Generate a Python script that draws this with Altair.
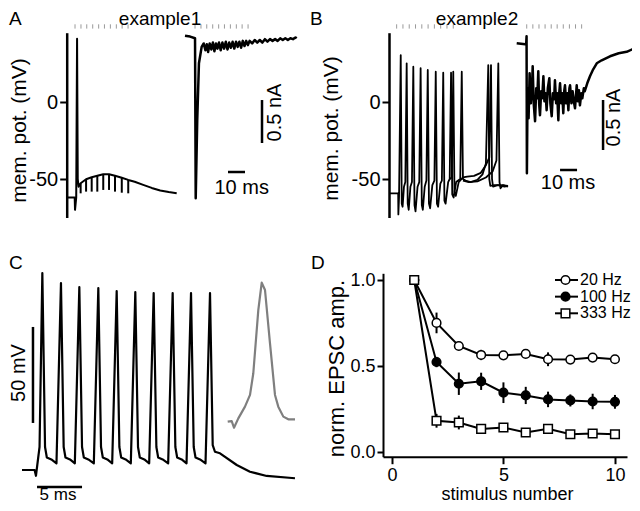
import altair as alt
import pandas as pd

# ---------------- Panel A : example1 ----------------
# membrane potential trace (ms, mV)
a_v_t = [0, 4.7, 4.9, 5.6, 6.1, 6.5, 7.0, 8.2, 11.4, 14.7, 18.0, 21.5, 24.9, 28.4, 32.4, 36.2,
         40.0, 45.0, 50.0, 55.0, 60.0, 64.7]
a_v_v = [-62, -62, -70, -62, 41, -50, -55, -52.8, -50.2, -48.9, -47.9, -46.9, -46.9, -47.9, -49.2, -50.6,
         -51.8, -53.8, -55.8, -57.5, -58.5, -59.3]
# stimulus artifacts on the voltage trace
a_art_t = [8.2, 11.4, 14.7, 18.0, 21.5, 24.9, 28.4, 32.4, 36.2]
a_art_top = [-52.8, -50.2, -48.9, -47.9, -46.9, -46.9, -47.9, -49.2, -50.6]
a_art_bot = [-59.3, -58.2, -58.2, -58.2, -57.1, -57.1, -58.2, -58.9, -59.3]
# stimulus times (grey dotted markers)
a_stim_v = [4.9, 8.4, 11.8, 15.3, 18.8, 22.2, 25.7, 29.2, 32.6, 36.1]
a_stim_i = [5.9, 9.4, 12.8, 16.3, 19.8, 23.2, 26.7, 30.2, 33.6, 37.1]
# EPSC trace (ms, nA)
a_i_t = [0, 3, 5.9, 6.3, 7.2, 8.2, 9.8, 11, 12, 12.8, 13.6, 14.5, 15.5, 16.4, 17.3, 18.2, 19.1,
         20, 21, 22, 23, 24, 25, 26, 27, 28, 29, 30, 31, 32, 33, 34, 35, 36, 37, 38,
         39.5, 41, 42.5, 44, 45.5, 47, 48.5, 50, 51.5, 53, 54.5, 56, 57.5, 59, 60.5, 62, 63.5, 65, 65.7]
a_i_v = [0.0, -0.01, -0.03, -1.89, -0.98, -0.32, -0.13, -0.09, -0.17, -0.1, -0.19, -0.09, -0.16, -0.08, -0.18, -0.09, -0.15,
         -0.08, -0.17, -0.08, -0.15, -0.07, -0.16, -0.08, -0.14, -0.07, -0.15, -0.07, -0.13, -0.07, -0.14, -0.06, -0.12, -0.06, -0.11, -0.06,
         -0.09, -0.05, -0.08, -0.05, -0.08, -0.04, -0.07, -0.04, -0.06, -0.04, -0.06, -0.03, -0.05, -0.03, -0.05, -0.03, -0.04, -0.02, -0.03]
# scale bars (10 ms, 0.5 nA)
a_bar_ms = [25.3, 35.3]
a_bar_ms_at = -1.585
a_bar_na = [-0.748, -1.248]
a_bar_na_at = 45.3

# ---------------- Panel B : example2 ----------------
b_s1_t = [0, 5.4, 5.5, 5.9, 6.9, 7.5, 8.0, 8.8, 9.6, 10.4, 11.0, 11.6, 12.6, 13.5, 14.3, 15.0, 15.6, 16.8, 17.8,
          18.6, 19.3, 19.9, 21.0, 22.0, 22.8, 23.5, 24.2, 25.5, 26.7, 27.5, 28.2, 28.9, 30.2, 31.1, 31.9, 32.6, 33.3,
          34.8, 35.7, 36.5, 37.2, 38.0, 39.5, 41.9, 42.8, 43.5, 45, 48, 52, 55, 57, 58.4, 59.0, 59.6, 62, 66, 70]
b_s1_v = [-59.3, -59.3, -73, -62, 30.5, -66, -68, -55, -52, 25.1, -66, -70, -55, -52, 22.9, -67, -71, -55, -52,
          21.9, -67, -70, -55, -51, 20.8, -66, -69, -54, -51, 19.7, -66, -68, -53, -51, 19.0, -64, -66,
          -52, -50, 19.0, -60, -62, -52, -50, 19.7, -50, -51, -52, -50.5, -47, -40, 24, -50, -54.5, -54, -54, -54.5]
b_s2_t = [35.7, 36.9, 37.8, 38.5, 39.3, 41.0, 43.5, 46, 50, 54, 57, 59, 60.0, 60.6, 61.2, 64, 68, 70]
b_s2_v = [-50, -49, 19.7, -58, -61, -52, -49, -48.5, -48, -46, -41, -36, 24, -50, -55, -54, -55, -54.5]
b_s3_t = [43.5, 47, 52, 57, 61, 63.2, 64.3, 65.0, 65.6, 67, 70]
b_s3_v = [-51, -52, -51.5, -49, -45, -38, 25, -52, -56, -54, -55]
b_stim_v = [4.5, 8.2, 11.9, 15.6, 19.3, 23.0, 26.7, 30.4, 34.1, 37.8]
b_stim_i = [5.9, 9.5, 13.1, 16.7, 20.3, 23.8, 27.4, 31.0, 34.6, 38.2]
b_i_t = [0, 5.0, 5.6, 5.8, 6.0, 6.4, 7.0, 7.6, 8.3, 9.0, 9.4, 10.0, 10.8, 11.5, 12.1,
         12.7, 13.2, 13.7, 14.4, 15.0, 15.7, 16.3, 17.0, 17.6, 18.3, 19.2, 19.8, 20.6, 21.3, 22.0, 22.5, 23.2, 23.8, 24.5, 25.0,
         25.5, 26.2, 26.8, 27.4, 28.0, 28.4, 29.1, 29.8, 30.4, 31.0, 31.4, 32.2, 32.9, 33.6, 34.3, 35.3, 36.0, 36.6, 37.2, 38.0,
         38.6, 39.5, 40.0, 41.5, 43.1, 45, 47.1, 50, 54.9, 60, 64.7, 68, 70.6]
b_i_v = [0.0, -0.01, 0.0, 0.07, -1.3, -0.45, -0.75, -0.3, -0.6, -0.45, -0.23, -0.6, -0.78, -0.45, -0.55,
         -0.28, -0.6, -0.72, -0.48, -0.55, -0.33, -0.58, -0.5, -0.67, -0.45, -0.35, -0.6, -0.73, -0.5, -0.56, -0.37, -0.6, -0.5, -0.77, -0.5,
         -0.4, -0.6, -0.5, -0.7, -0.47, -0.42, -0.6, -0.5, -0.67, -0.45, -0.42, -0.6, -0.48, -0.58, -0.65, -0.42, -0.58, -0.47, -0.62, -0.5,
         -0.55, -0.45, -0.48, -0.4, -0.33, -0.26, -0.2, -0.17, -0.13, -0.1, -0.085, -0.06, -0.05]
b_bar_ms = [25.5, 35.5]
b_bar_ms_at = -1.267
b_bar_na = [-0.567, -1.067]
b_bar_na_at = 50.8

# ---------------- Panel C : spike train ----------------
c_t = [0, 1.4, 1.55, 1.95, 2.26, 2.56, 2.76, 3.26, 3.83,
       4.33, 4.63, 4.83, 5.33, 5.87,
       6.37, 6.67, 6.87, 7.37, 7.98,
       8.48, 8.78, 8.98, 9.48, 10.02,
       10.52, 10.82, 11.02, 11.52, 12.09,
       12.59, 12.89, 13.09, 13.59, 14.13,
       14.63, 14.93, 15.13, 15.63, 16.24,
       16.74, 17.04, 17.24, 17.74, 18.28,
       18.78, 19.08, 19.28, 19.78, 20.39,
       20.89, 21.19, 21.44, 22.0, 23.86, 25.33, 27.19, 30.33]
c_v = [-70, -70, -73, -58, 32.6, -58, -63.5, -64.5, -66.5,
       27.4, -58, -63.5, -64.5, -66.5,
       25.3, -58, -63.5, -64.5, -66.5,
       24.8, -58, -63.5, -64.5, -66.5,
       23.2, -58, -63.5, -64.5, -66.5,
       22.7, -58, -63.5, -64.5, -66.5,
       22.2, -58, -63.5, -64.5, -66.5,
       22.2, -58, -63.5, -64.5, -66.5,
       22.2, -58, -63.5, -64.5, -66.5,
       22.2, -57, -60.5, -61.3, -67.4, -70.9, -73.1, -74.3]
# grey averaged spike (inset)
g_u = [0, 0.089, 0.14, 0.236, 0.384, 0.496, 0.569, 0.68, 0.756, 0.829, 0.94, 1.051, 1.124, 1.236, 1.347, 1.496]
g_v = [-44.8, -44.5, -48.0, -43.1, -37.0, -30.9, -19.6, 13.3, 27.6, 23.75, -4.0, -30.9, -37.0, -42.2, -43.6, -43.6]
c_bar_ms = [1.67, 6.67]
c_bar_ms_at = -78.9
c_bar_mv = [4.5, -45.5]
c_bar_mv_at = 1.22

# ---------------- Panel D : depression ----------------
stim_n = [1, 2, 3, 4, 5, 6, 7, 8, 9, 10]
series = ["20 Hz", "100 Hz", "333 Hz"]
amp_20 = [1.0, 0.751, 0.617, 0.565, 0.563, 0.571, 0.54, 0.538, 0.55, 0.54]
err_20 = [0, 0.06, 0.02, 0.03, 0.015, 0.02, 0.04, 0.015, 0.015, 0.015]
amp_100 = [1.0, 0.524, 0.398, 0.412, 0.346, 0.33, 0.307, 0.301, 0.295, 0.293]
err_100 = [0, 0.03, 0.065, 0.05, 0.06, 0.05, 0.045, 0.035, 0.045, 0.04]
amp_333 = [1.0, 0.183, 0.173, 0.136, 0.144, 0.115, 0.136, 0.105, 0.109, 0.105]
err_333 = [0, 0.04, 0.04, 0.02, 0.02, 0.01, 0.025, 0.01, 0.01, 0.015]

# ======================================================
FONT = "Liberation Sans"
INK = "#000000"
W, H = 624, 495


def P(p):
    """page pixel -> chart pixel (page has an 8px margin)"""
    return p - 8


def S(d0, d1, p0, p1):
    return alt.Scale(domain=[d0, d1], range=[P(p0), P(p1)], nice=False, zero=False)


xAv = S(0, 70, 66.7, 66.7 + 1.7 * 70)
yV = S(-75, 45, 102 + 1.54 * 75, 102 - 1.54 * 45)
xAi = S(0, 70, 185, 185 + 1.7 * 70)
yAi = S(-2.0, 0.1, 35.7 + 86 * 2.0, 35.7 - 86 * 0.1)
xBv = S(0, 72, 389, 389 + 1.7 * 72)
xBi = S(0, 72, 516.7, 516.7 + 1.7 * 72)
yBi = S(-1.4, 0.1, 43.3 + 100 * 1.4, 43.3 - 100 * 0.1)
xC = S(0, 31, 22, 22 + 9 * 31)
yC = S(-80, 35, 335.6 + 1.92 * 80, 335.6 - 1.92 * 35)
xG = S(0, 1.5, 227.7, 227.7 + 45 * 1.5)
xD = S(-0.4, 10.54, 383, 627)
yD = S(-0.0255, 1.039, 456.7, 273.3)

NOAX = None


def df_trace(t, v, sweep="s"):
    return pd.DataFrame({"t": t, "v": v, "i": list(range(len(t))), "sweep": sweep})


def trace(df, xs, ys, color=INK, width=2.0, yaxis=NOAX):
    return alt.Chart(df).mark_line(color=color, strokeWidth=width, strokeJoin="round").encode(
        x=alt.X("t:Q", scale=xs, axis=None),
        y=alt.Y("v:Q", scale=ys, axis=yaxis),
        detail="sweep:N",
        order=alt.Order("i:Q"),
    )


def stim(times, xs):
    return alt.Chart(pd.DataFrame({"t": times})).mark_rule(color="#9a9a9a", strokeWidth=1).encode(
        x=alt.X("t:Q", scale=xs, axis=None), y=alt.value(P(24.3)), y2=alt.value(P(28.6)))


def hbar(x0, x1, yv, xs, ys, width=2.5):
    d = pd.DataFrame({"a": [x0], "b": [x1], "y": [yv]})
    return alt.Chart(d).mark_rule(color=INK, strokeWidth=width).encode(
        x=alt.X("a:Q", scale=xs, axis=None), x2="b:Q", y=alt.Y("y:Q", scale=ys, axis=None))


def vbar(xv, y0, y1, xs, ys, width=2.5):
    d = pd.DataFrame({"x": [xv], "a": [y0], "b": [y1]})
    return alt.Chart(d).mark_rule(color=INK, strokeWidth=width).encode(
        x=alt.X("x:Q", scale=xs, axis=None), y=alt.Y("a:Q", scale=ys, axis=None), y2="b:Q")


def txt(s, xp, yp, size, angle=0, align="center", baseline="middle"):
    return alt.Chart(pd.DataFrame({"s": [s]})).mark_text(
        font=FONT, fontSize=size, angle=angle, align=align, baseline=baseline, color=INK
    ).encode(text="s:N", x=alt.value(P(xp)), y=alt.value(P(yp)))


def vaxis(axis_x, title_x, title_y):
    return alt.Axis(orient="left", values=[-50, 0], labelExpr="'' + datum.value", offset=-P(axis_x),
                    title="mem. pot. (mV)", titleX=title_x - axis_x, titleY=P(title_y),
                    titleAngle=270, titleAlign="center", titleBaseline="middle",
                    titleFontSize=21, labelFontSize=20, tickSize=7, labelPadding=2,
                    domainWidth=2.5, tickWidth=2, grid=False)


layers = []

# ---- A ----
layers.append(trace(df_trace(a_v_t, a_v_v), xAv, yV, yaxis=vaxis(66.7, 19.5, 130)))
layers.append(alt.Chart(pd.DataFrame({"t": a_art_t, "a": a_art_top, "b": a_art_bot})).mark_rule(
    color=INK, strokeWidth=2).encode(x=alt.X("t:Q", scale=xAv, axis=None),
                                     y=alt.Y("a:Q", scale=yV, axis=None), y2="b:Q"))
layers.append(stim(a_stim_v, xAv))
layers.append(stim(a_stim_i, xAi))
layers.append(trace(df_trace(a_i_t, a_i_v), xAi, yAi, width=2.5))
layers.append(hbar(a_bar_ms[0], a_bar_ms[1], a_bar_ms_at, xAi, yAi))
layers.append(vbar(a_bar_na_at, a_bar_na[0], a_bar_na[1], xAi, yAi))
layers.append(txt("0.5 nA", 274.5, 112.5, 20, angle=270))
layers.append(txt("10 ms", 241.7, 187.5, 20))
layers.append(txt("example1", 160, 10, 19, baseline="top"))
layers.append(txt("A", 9, 10, 19, align="left", baseline="top"))

# ---- B ----
b_df = pd.concat([df_trace(b_s1_t, b_s1_v, "1"), df_trace(b_s2_t, b_s2_v, "2"), df_trace(b_s3_t, b_s3_v, "3")])
layers.append(trace(b_df, xBv, yV, width=1.8, yaxis=vaxis(389, 331, 128)))
layers.append(stim(b_stim_v, xBv))
layers.append(stim(b_stim_i, xBi))
layers.append(trace(df_trace(b_i_t, b_i_v), xBi, yBi, width=2.5))
layers.append(hbar(b_bar_ms[0], b_bar_ms[1], b_bar_ms_at, xBi, yBi))
layers.append(vbar(b_bar_na_at, b_bar_na[0], b_bar_na[1], xBi, yBi))
layers.append(txt("0.5 nA", 614, 117.5, 20, angle=270))
layers.append(txt("10 ms", 568, 182.5, 20))
layers.append(txt("example2", 477, 10, 19, baseline="top"))
layers.append(txt("B", 310, 10, 19, align="left", baseline="top"))

# ---- C ----
layers.append(trace(df_trace(c_t, c_v), xC, yC, width=2.2))
layers.append(trace(df_trace(g_u, g_v), xG, yC, color="#7f7f7f", width=2.2))
layers.append(hbar(c_bar_ms[0], c_bar_ms[1], c_bar_ms_at, xC, yC))
layers.append(vbar(c_bar_mv_at, c_bar_mv[0], c_bar_mv[1], xC, yC))
layers.append(txt("50 mV", 18.5, 373, 20, angle=270))
layers.append(txt("5 ms", 58, 499.5, 17, baseline="alphabetic"))
layers.append(txt("C", 9, 254, 19, align="left", baseline="top"))

# ---- D ----
d_rows = []
for s, amp, err in zip(series, [amp_20, amp_100, amp_333], [err_20, err_100, err_333]):
    for n, a, e in zip(stim_n, amp, err):
        d_rows.append({"n": n, "amp": a, "lo": a - e, "hi": a + e, "series": s})
d_df = pd.DataFrame(d_rows)

shape_sc = alt.Scale(domain=series, range=["circle", "circle", "square"])
fill_sc = alt.Scale(domain=series, range=["white", "black", "white"])
size_sc = alt.Scale(domain=series, range=[75, 75, 85])

xDax = alt.Axis(orient="bottom", values=[0, 5, 10], offset=P(456.7) - H, title="stimulus number",
                titleX=P(507), titleY=499 - 456.7, titleBaseline="alphabetic", titleAlign="center",
                titleFontSize=18, labelFontSize=18, tickSize=7, labelPadding=3,
                domainWidth=2, tickWidth=2, grid=False)
yDax = alt.Axis(orient="left", values=[0, 0.5, 1], format=".1f", offset=-P(383), title="norm. EPSC amp.",
                titleX=336 - 383, titleY=P(368), titleAngle=270, titleAlign="center", titleBaseline="middle",
                titleFontSize=22, labelFontSize=18, tickSize=6, labelPadding=2,
                domainWidth=2, tickWidth=2, grid=False)

layers.append(alt.Chart(d_df).mark_line(color=INK, strokeWidth=2).encode(
    x=alt.X("n:Q", scale=xD, axis=xDax), y=alt.Y("amp:Q", scale=yD, axis=yDax),
    detail="series:N", order="n:Q"))
layers.append(alt.Chart(d_df).mark_rule(color=INK, strokeWidth=2).encode(
    x=alt.X("n:Q", scale=xD, axis=None), y=alt.Y("lo:Q", scale=yD, axis=None), y2="hi:Q"))
layers.append(alt.Chart(d_df).mark_point(filled=True, stroke=INK, strokeWidth=1.5, opacity=1).encode(
    x=alt.X("n:Q", scale=xD, axis=None), y=alt.Y("amp:Q", scale=yD, axis=None),
    shape=alt.Shape("series:N", scale=shape_sc, legend=None),
    fill=alt.Fill("series:N", scale=fill_sc, legend=None),
    size=alt.Size("series:N", scale=size_sc, legend=None)))

# legend (drawn in place)
leg = pd.DataFrame({"series": series})
leg_y = alt.Scale(type="point", domain=series, range=[P(280), P(313.3)], padding=0)
layers.append(alt.Chart(leg).mark_rule(color=INK, strokeWidth=2).encode(
    y=alt.Y("series:N", scale=leg_y, axis=None), x=alt.value(P(555)), x2=alt.value(P(578))))
layers.append(alt.Chart(leg).mark_point(filled=True, stroke=INK, strokeWidth=1.5, opacity=1).encode(
    y=alt.Y("series:N", scale=leg_y, axis=None), x=alt.value(P(565.5)),
    shape=alt.Shape("series:N", scale=shape_sc, legend=None),
    fill=alt.Fill("series:N", scale=fill_sc, legend=None),
    size=alt.Size("series:N", scale=size_sc, legend=None)))
layers.append(alt.Chart(leg).mark_text(font=FONT, fontSize=16, align="left", baseline="middle", color=INK).encode(
    y=alt.Y("series:N", scale=leg_y, axis=None), x=alt.value(P(580)), text="series:N"))
layers.append(txt("D", 311, 254, 19, align="left", baseline="top"))

chart = alt.layer(*layers).resolve_scale(
    x="independent", y="independent"
).properties(
    width=W, height=H, autosize=alt.AutoSizeParams(type="none"), padding=0
).configure_view(stroke=None).configure_axis(
    labelFont=FONT, titleFont=FONT, labelColor=INK, titleColor=INK, domainColor=INK, tickColor=INK,
    titleFontWeight="normal"
)

chart.save("out.html", embed_options={"renderer": "svg", "actions": False})
